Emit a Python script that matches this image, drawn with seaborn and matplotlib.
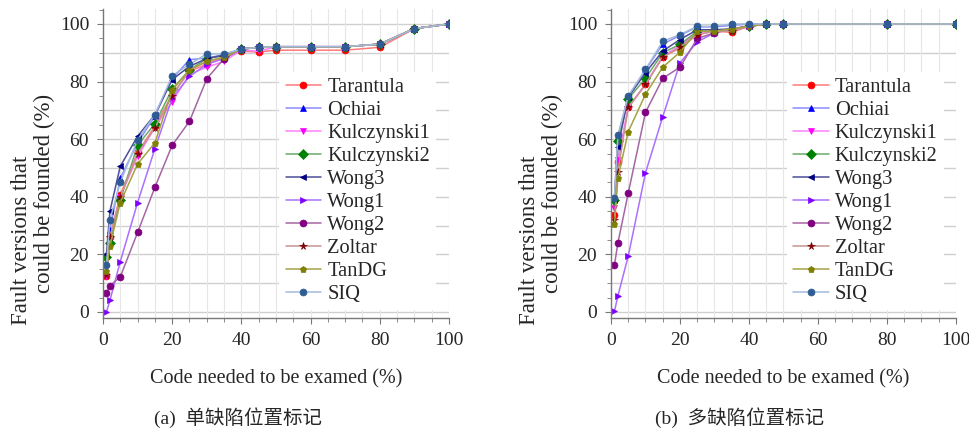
import numpy as np
import pandas as pd
import matplotlib
matplotlib.use("Agg")
import matplotlib.pyplot as plt
from matplotlib.ticker import MultipleLocator
import seaborn as sns

# data
methods = ["Tarantula", "Ochiai", "Kulczynski1", "Kulczynski2", "Wong3",
           "Wong1", "Wong2", "Zoltar", "TanDG", "SIQ"]

x_single = [1, 2, 5, 10, 15, 20, 25, 30, 35, 40, 45, 50, 60, 70, 80, 90, 100]
single_tarantula = [12.5, 26, 40.7, 55.4, 64.5, 75.5, 83.6, 86, 88.5, 90.5, 90.3, 90.9, 90.9, 90.9, 91.9, 98.4, 100]
single_ochiai = [17, 28.6, 46.5, 58.7, 68, 81, 87.6, 88.2, 89.3, 91.3, 91.9, 92.1, 92.1, 92.1, 93, 98.4, 100]
single_kulczynski1 = [12.6, 25.5, 40, 54, 64, 73, 82.5, 85, 87, 91, 90.5, 92.1, 92.1, 92.1, 93, 98.4, 100]
single_kulczynski2 = [19, 24, 39, 57.9, 65.4, 77.4, 84.1, 88, 89, 91.3, 91.9, 92.1, 92.1, 92.1, 93, 98.4, 100]
single_wong3 = [20.1, 35, 50.6, 61, 68.5, 80.7, 85.3, 88, 89.2, 91.3, 91.9, 92.1, 92.1, 92.1, 93, 98.4, 100]
single_wong1 = [0, 4, 17.5, 38, 56.7, 74.3, 81.8, 86, 88, 91.3, 91.9, 92.1, 92.1, 92.1, 93, 98.4, 100]
single_wong2 = [6.6, 9.1, 12.2, 27.6, 43.3, 57.9, 66.2, 81, 88, 91.3, 91.9, 92.1, 92.1, 92.1, 93, 98.4, 100]
single_zoltar = [13, 26, 40, 55, 64, 75, 84, 87, 88.5, 91.3, 91.9, 92.1, 92.1, 92.1, 93, 98.4, 100]
single_tandg = [14.1, 22.8, 38, 51.4, 58.7, 77, 84.1, 87, 88.5, 91.3, 91.9, 92.1, 92.1, 92.1, 93, 98.4, 100]
single_siq = [16.4, 32, 45, 59.8, 68.5, 82, 86, 89.6, 89.6, 91.3, 91.9, 92.1, 92.1, 92.1, 93, 98.4, 100]

x_multi = [1, 2, 5, 10, 15, 20, 25, 30, 35, 40, 45, 50, 80, 100]
multi_tarantula = [33.6, 52, 71, 79, 88.5, 91.7, 96.3, 97.5, 97.1, 99.2, 100, 100, 100, 100]
multi_ochiai = [40, 61, 75, 84, 93, 96, 99, 99, 99.5, 100, 100, 100, 100, 100]
multi_kulczynski1 = [36.2, 52.8, 71, 79, 88.8, 92.5, 97, 97.5, 98.3, 99.2, 100, 100, 100, 100]
multi_kulczynski2 = [39, 59.3, 74, 81.1, 90, 92.9, 97.5, 97.5, 98.3, 99.2, 100, 100, 100, 100]
multi_wong3 = [38.8, 57.2, 74.5, 83.1, 90.6, 94.6, 98, 98, 98.3, 99.2, 100, 100, 100, 100]
multi_wong1 = [0.2, 5.6, 19.4, 48.3, 67.8, 86.5, 93.8, 96.9, 98.3, 99.2, 100, 100, 100, 100]
multi_wong2 = [16.3, 24, 41.3, 69.3, 81.1, 85, 95, 96.9, 98.3, 99.2, 100, 100, 100, 100]
multi_zoltar = [32, 48.6, 71, 79, 88.5, 92, 96.3, 97.5, 97.5, 99.2, 100, 100, 100, 100]
multi_tandg = [30.5, 46.5, 62.6, 75.6, 85, 90.2, 97.5, 97.5, 98.3, 99.2, 100, 100, 100, 100]
multi_siq = [39.7, 61.4, 75, 84.2, 94, 96.3, 99.2, 99.2, 100, 100, 100, 100, 100, 100]

single = [single_tarantula, single_ochiai, single_kulczynski1, single_kulczynski2, single_wong3,
          single_wong1, single_wong2, single_zoltar, single_tandg, single_siq]
multi = [multi_tarantula, multi_ochiai, multi_kulczynski1, multi_kulczynski2, multi_wong3,
         multi_wong1, multi_wong2, multi_zoltar, multi_tandg, multi_siq]

# (marker, marker colour, line colour)
styles = {
    "Tarantula": ("o", "#ff0000", "#ff7a7a"),
    "Ochiai": ("^", "#0000ff", "#8c8cff"),
    "Kulczynski1": ("v", "#ff00ff", "#ff80ff"),
    "Kulczynski2": ("D", "#008000", "#6aaa6a"),
    "Wong3": ("<", "#000080", "#4d4d99"),
    "Wong1": (">", "#8000ff", "#ab70ff"),
    "Wong2": ("o", "#800080", "#a566a5"),
    "Zoltar": ("*", "#800000", "#c99393"),
    "TanDG": ("p", "#808000", "#a3a345"),
    "SIQ": ("o", "#2e5c94", "#a3bcdc"),
}

sns.set_style("white")
plt.rcParams["font.family"] = ["Liberation Serif", "Noto Sans CJK SC"]

fig = plt.figure(figsize=(9.7, 4.33), dpi=100)
W, H = 970, 433


def px_axes(left, right, top, bottom):
    return fig.add_axes([left / W, 1 - bottom / H, (right - left) / W, (bottom - top) / H])


def draw_panel(ax, xs, series, leg_x):
    for y in range(0, 101, 10):
        ax.axhline(y, color="#cfcfcf", lw=1.0, zorder=0)
    for x in range(5, 101, 5):
        ax.axvline(x, color="#e6e6e6", lw=0.8, zorder=0)
    for name, vals in zip(methods, series):
        m, mc, lc = styles[name]
        df = pd.DataFrame({"x": xs, "y": vals})
        ms = 5.5 if m == "*" else 5
        sns.lineplot(data=df, x="x", y="y", ax=ax, color=lc, lw=1.1,
                     marker=m, markersize=ms, markerfacecolor=mc,
                     markeredgecolor=mc, markeredgewidth=0.5, label=name)
    ax.set_xlim(0, 100)
    ax.set_ylim(-2.1, 105.2)
    ax.xaxis.set_major_locator(MultipleLocator(20))
    ax.xaxis.set_minor_locator(MultipleLocator(5))
    ax.yaxis.set_major_locator(MultipleLocator(20))
    ax.yaxis.set_minor_locator(MultipleLocator(5))
    ax.tick_params(which="both", direction="out", color="#777777", left=True, bottom=True)
    ax.tick_params(which="major", length=4, labelsize=14, pad=6)
    ax.tick_params(which="minor", length=3)
    for s in ["top", "right"]:
        ax.spines[s].set_visible(False)
    for s in ["left", "bottom"]:
        ax.spines[s].set_color("#777777")
        ax.spines[s].set_linewidth(1.0)
    ax.set_xlabel("")
    ax.set_ylabel("")
    leg = ax.legend(loc="upper left", bbox_to_anchor=(leg_x, 0.797), borderaxespad=0,
                    fontsize=14.7, handlelength=1.75, handletextpad=0.3,
                    labelspacing=0.18, borderpad=0.3, frameon=True, fancybox=False)
    leg.get_frame().set_facecolor("white")
    leg.get_frame().set_edgecolor("none")
    leg.get_frame().set_alpha(1)


ax1 = px_axes(103, 449, 9, 318)
ax2 = px_axes(611, 956, 9, 318)
draw_panel(ax1, x_single, single, 0.51)
draw_panel(ax2, x_multi, multi, 0.51)

# axis titles
for cx1, cx2, cxl in [(22, 44, 276), (530, 552, 783)]:
    fig.text(cx1 / W, 1 - 240 / H, "Fault versions that", rotation=90,
             ha="center", va="center", fontsize=16.5)
    fig.text(cx2 / W, 1 - 193 / H, "could be founded (%)", rotation=90,
             ha="center", va="center", fontsize=16.5)
    fig.text(cxl / W, 1 - 379 / H, "Code needed to be examed (%)",
             ha="center", va="center", fontsize=14.5)

fig.text(238 / W, 1 - 418 / H, "(a)  单缺陷位置标记", ha="center", va="center", fontsize=14)
fig.text(740 / W, 1 - 418 / H, "(b)  多缺陷位置标记", ha="center", va="center", fontsize=14)

fig.savefig("out.png", dpi=100)
